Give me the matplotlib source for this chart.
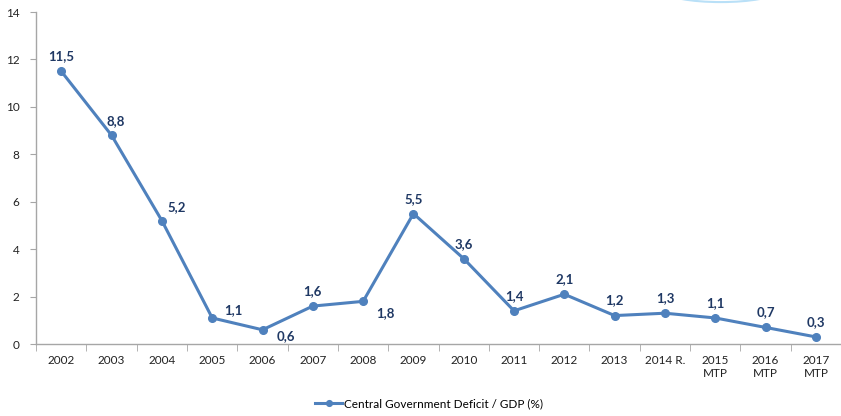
import matplotlib.pyplot as plt
from matplotlib.patches import Ellipse

# data
years = ['2002', '2003', '2004', '2005', '2006', '2007', '2008', '2009', '2010',
         '2011', '2012', '2013', '2014 R.', '2015\nMTP', '2016\nMTP', '2017\nMTP']
deficit = [11.5, 8.8, 5.2, 1.1, 0.6, 1.6, 1.8, 5.5, 3.6, 1.4, 2.1, 1.2, 1.3, 1.1, 0.7, 0.3]
labels = ['11,5', '8,8', '5,2', '1,1', '0,6', '1,6', '1,8', '5,5', '3,6',
          '1,4', '2,1', '1,2', '1,3', '1,1', '0,7', '0,3']

line_col = '#4F81BD'
lab_col = '#1F3864'
plt.rcParams['font.family'] = ['Lato', 'DejaVu Sans']

fig = plt.figure(figsize=(8.41, 4.16), dpi=100)
ax = fig.add_axes([0.043, 0.173, 0.957, 0.798])

x = range(len(years))
ax.plot(x, deficit, color=line_col, lw=2.2, marker='o', ms=5.5,
        label='Central Government Deficit / GDP (%)')

# label offsets in pixels (default: above the point)
offsets = {2: (15, 14), 3: (21, 8), 4: (23, -6), 6: (22, -12), 1: (4, 14)}
for i, (v, t) in enumerate(zip(deficit, labels)):
    dx, dy = offsets.get(i, (0, 15))
    ax.annotate(t, (i, v), xytext=(dx, dy), textcoords='offset pixels',
                ha='center', va='center', fontsize=9.5, fontweight='bold', color=lab_col)

ax.set_xlim(-0.5, len(years) - 0.5)
ax.set_ylim(0, 14)
ax.set_yticks(range(0, 15, 2))
ax.set_xticks(x)
ax.set_xticklabels(years, fontsize=8.5, color='#222222', linespacing=1.25)
ax.set_xticks([i + 0.5 for i in range(-1, len(years))], minor=True)
ax.tick_params(axis='x', which='major', length=0, pad=8)
ax.tick_params(axis='x', which='minor', length=5, color='#A6A6A6')
ax.tick_params(axis='y', length=4, color='#A6A6A6', labelsize=8.5, labelcolor='#222222', pad=8)

for s in ['top', 'right']:
    ax.spines[s].set_visible(False)
for s in ['left', 'bottom']:
    ax.spines[s].set_color('#A6A6A6')
    ax.spines[s].set_linewidth(1)

fig.legend(loc='center', bbox_to_anchor=(0.51, 0.03), frameon=False, fontsize=8.5,
           handlelength=2.3, handletextpad=0.1, markerscale=0.75)

# faint decorative arc at top
fig.patches.append(Ellipse((0.857, 1.02), 0.13, 0.05, transform=fig.transFigure,
                           fill=False, edgecolor='#9CD3F5', lw=1.5, alpha=0.7))

fig.savefig('out.png', dpi=100)
